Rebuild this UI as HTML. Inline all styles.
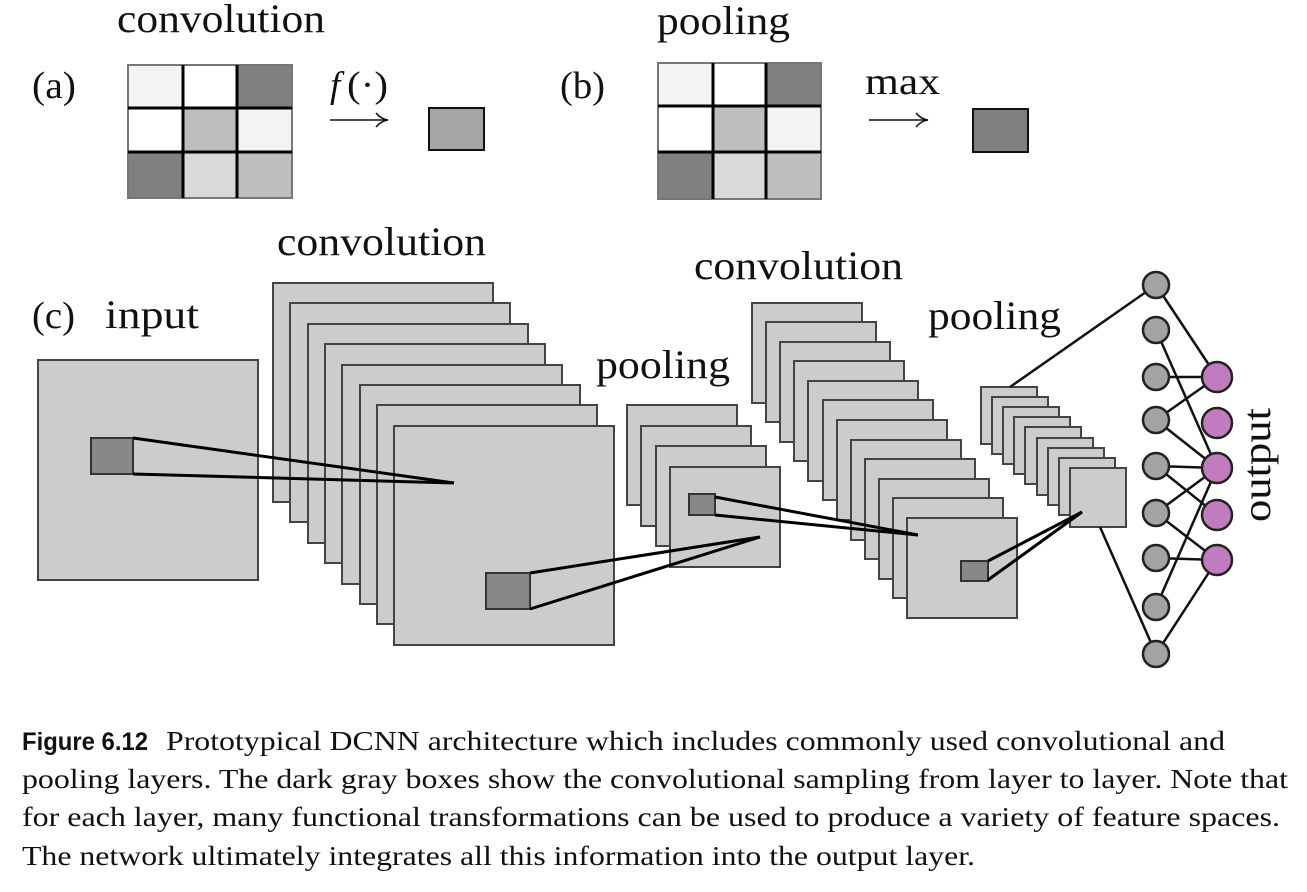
<!DOCTYPE html>
<html><head><meta charset="utf-8"><style>
html,body{margin:0;padding:0;background:#fff;}
svg{display:block;}
.s{font-family:"Liberation Serif",serif;fill:#111;}
</style></head><body>
<svg width="1307" height="892" viewBox="0 0 1307 892" xmlns="http://www.w3.org/2000/svg">
<!-- (a) -->
<text class="s" x="117" y="32" font-size="40" textLength="208" lengthAdjust="spacingAndGlyphs">convolution</text>
<text class="s" x="32" y="98" font-size="38" textLength="44" lengthAdjust="spacingAndGlyphs">(a)</text>
<g stroke="none">
<rect x="128" y="65" width="55" height="43" fill="#f2f3f2"/>
<rect x="183" y="65" width="54" height="43" fill="#fff"/>
<rect x="237" y="65" width="55" height="43" fill="#808080"/>
<rect x="128" y="108" width="55" height="44" fill="#fff"/>
<rect x="183" y="108" width="54" height="44" fill="#bfbdbe"/>
<rect x="237" y="108" width="55" height="44" fill="#f2f3f2"/>
<rect x="128" y="152" width="55" height="46" fill="#808080"/>
<rect x="183" y="152" width="54" height="46" fill="#d9d9d9"/>
<rect x="237" y="152" width="55" height="46" fill="#bfbdbe"/>
</g>
<rect x="128" y="65" width="164" height="133" fill="none" stroke="#777" stroke-width="2"/>
<g stroke="#000" stroke-width="3">
<line x1="183" y1="65" x2="183" y2="198"/><line x1="237" y1="65" x2="237" y2="198"/>
<line x1="128" y1="108" x2="292" y2="108"/><line x1="128" y1="152" x2="292" y2="152"/>
</g>
<text class="s" x="330" y="97" font-size="37" font-style="italic">f</text>
<text class="s" x="347" y="97" font-size="37" textLength="41" lengthAdjust="spacingAndGlyphs">(·)</text>
<line x1="330" y1="120" x2="386" y2="120" stroke="#111" stroke-width="1.6"/>
<path d="M376 113 Q381 119 388 120 Q381 121 376 127" fill="none" stroke="#111" stroke-width="1.6"/>
<rect x="429" y="108" width="55" height="42" fill="#a5a7a5" stroke="#111" stroke-width="2"/>
<!-- (b) -->
<text class="s" x="560" y="98" font-size="38" textLength="45" lengthAdjust="spacingAndGlyphs">(b)</text>
<text class="s" x="657" y="34" font-size="40" textLength="133" lengthAdjust="spacingAndGlyphs">pooling</text>
<g stroke="none">
<rect x="658" y="63" width="55" height="43" fill="#f2f3f2"/>
<rect x="713" y="63" width="53" height="43" fill="#fff"/>
<rect x="766" y="63" width="55" height="43" fill="#808080"/>
<rect x="658" y="106" width="55" height="46" fill="#fff"/>
<rect x="713" y="106" width="53" height="46" fill="#bfbdbe"/>
<rect x="766" y="106" width="55" height="46" fill="#f2f3f2"/>
<rect x="658" y="152" width="55" height="47" fill="#808080"/>
<rect x="713" y="152" width="53" height="47" fill="#d9d9d9"/>
<rect x="766" y="152" width="55" height="47" fill="#bfbdbe"/>
</g>
<rect x="658" y="63" width="163" height="136" fill="none" stroke="#777" stroke-width="2"/>
<g stroke="#000" stroke-width="3">
<line x1="713" y1="63" x2="713" y2="199"/><line x1="766" y1="63" x2="766" y2="199"/>
<line x1="658" y1="106" x2="821" y2="106"/><line x1="658" y1="152" x2="821" y2="152"/>
</g>
<text class="s" x="865" y="94" font-size="38" textLength="75" lengthAdjust="spacingAndGlyphs">max</text>
<line x1="869" y1="120" x2="926" y2="120" stroke="#111" stroke-width="1.6"/>
<path d="M916 113 Q921 119 928 120 Q921 121 916 127" fill="none" stroke="#111" stroke-width="1.6"/>
<rect x="973" y="109" width="55" height="43" fill="#7f7f7f" stroke="#111" stroke-width="2"/>
<!-- (c) labels -->
<text class="s" x="277" y="255" font-size="40" textLength="209" lengthAdjust="spacingAndGlyphs">convolution</text>
<text class="s" x="32" y="328" font-size="38" textLength="43" lengthAdjust="spacingAndGlyphs">(c)</text>
<text class="s" x="105" y="328" font-size="40" textLength="94" lengthAdjust="spacingAndGlyphs">input</text>
<text class="s" x="596" y="378" font-size="40" textLength="134" lengthAdjust="spacingAndGlyphs">pooling</text>
<text class="s" x="694" y="279" font-size="40" textLength="209" lengthAdjust="spacingAndGlyphs">convolution</text>
<text class="s" x="928" y="329" font-size="40" textLength="133" lengthAdjust="spacingAndGlyphs">pooling</text>
<text class="s" x="0" y="0" font-size="40" textLength="114" lengthAdjust="spacingAndGlyphs" transform="translate(1270,522) rotate(-90)">output</text>
<g fill="#cccccc" stroke="#444" stroke-width="2">
<rect x="38" y="360" width="220" height="220"/>
<rect x="273" y="283" width="220" height="219"/>
<rect x="290" y="303" width="220" height="219"/>
<rect x="308" y="324" width="220" height="219"/>
<rect x="325" y="344" width="220" height="219"/>
<rect x="342" y="365" width="220" height="219"/>
<rect x="360" y="385" width="220" height="219"/>
<rect x="377" y="405" width="220" height="219"/>
<rect x="394" y="426" width="220" height="219"/>
<rect x="627" y="405" width="110" height="100"/>
<rect x="641" y="426" width="110" height="100"/>
<rect x="656" y="446" width="110" height="100"/>
<rect x="670" y="467" width="110" height="100"/>
<rect x="752" y="303" width="110" height="100"/>
<rect x="766" y="322" width="110" height="100"/>
<rect x="780" y="342" width="110" height="100"/>
<rect x="794" y="361" width="110" height="100"/>
<rect x="808" y="381" width="110" height="100"/>
<rect x="823" y="400" width="110" height="100"/>
<rect x="837" y="420" width="110" height="100"/>
<rect x="851" y="440" width="110" height="100"/>
<rect x="865" y="459" width="110" height="100"/>
<rect x="879" y="479" width="110" height="100"/>
<rect x="893" y="498" width="110" height="100"/>
<rect x="907" y="518" width="110" height="100"/>
<rect x="981" y="387" width="56" height="57"/>
<rect x="992" y="397" width="56" height="57"/>
<rect x="1003" y="407" width="56" height="57"/>
<rect x="1014" y="417" width="56" height="57"/>
<rect x="1025" y="427" width="56" height="57"/>
<rect x="1037" y="438" width="56" height="57"/>
<rect x="1048" y="448" width="56" height="57"/>
<rect x="1059" y="458" width="56" height="57"/>
<rect x="1070" y="468" width="56" height="59"/>
</g>
<g fill="#888" stroke="#333" stroke-width="2">
<rect x="91" y="438" width="42" height="36"/>
<rect x="486" y="573" width="44" height="36"/>
<rect x="689" y="494" width="26" height="21"/>
<rect x="961" y="561" width="27" height="20"/>
</g>
<g stroke="#000" stroke-width="3" fill="none">
<line x1="133" y1="438" x2="454" y2="483"/><line x1="133" y1="474" x2="454" y2="483"/>
<line x1="530" y1="573" x2="760" y2="537"/><line x1="530" y1="609" x2="760" y2="537"/>
<line x1="715" y1="497" x2="918" y2="535"/><line x1="715" y1="515" x2="918" y2="535"/>
<line x1="988" y1="561" x2="1082" y2="512"/><line x1="988" y1="580" x2="1082" y2="512"/>
</g>
<g stroke="#111" stroke-width="2.5">
<line x1="1010" y1="387" x2="1156" y2="285"/>
<line x1="1100" y1="527" x2="1156" y2="654"/>
<line x1="1156" y1="285" x2="1217" y2="377"/>
<line x1="1156" y1="654" x2="1217" y2="560"/>
<line x1="1156" y1="330" x2="1217" y2="468"/>
<line x1="1156" y1="377" x2="1217" y2="377"/>
<line x1="1156" y1="420" x2="1217" y2="377"/>
<line x1="1156" y1="420" x2="1217" y2="468"/>
<line x1="1156" y1="466" x2="1217" y2="468"/>
<line x1="1156" y1="466" x2="1217" y2="515"/>
<line x1="1156" y1="513" x2="1217" y2="468"/>
<line x1="1156" y1="513" x2="1217" y2="560"/>
<line x1="1156" y1="558" x2="1217" y2="560"/>
<line x1="1156" y1="607" x2="1217" y2="468"/>
</g>
<g fill="#a3a3a3" stroke="#222" stroke-width="2.5">
<circle cx="1156" cy="285" r="13"/><circle cx="1156" cy="330" r="13"/>
<circle cx="1156" cy="377" r="13"/><circle cx="1156" cy="420" r="13"/>
<circle cx="1156" cy="466" r="13"/><circle cx="1156" cy="513" r="13"/>
<circle cx="1156" cy="558" r="13"/><circle cx="1156" cy="607" r="13"/>
<circle cx="1156" cy="654" r="13"/>
</g>
<g fill="#c07cbf" stroke="#222" stroke-width="2.5">
<circle cx="1217" cy="377" r="15"/><circle cx="1217" cy="423" r="15"/>
<circle cx="1217" cy="468" r="15"/><circle cx="1217" cy="515" r="15"/>
<circle cx="1217" cy="560" r="15"/>
</g>
<text x="22" y="750" font-family="Liberation Sans Narrow, Liberation Sans, sans-serif" font-weight="bold" font-size="25" textLength="126" lengthAdjust="spacingAndGlyphs" fill="#111">Figure 6.12</text>
<text class="s" x="166" y="750" font-size="27" textLength="1059" lengthAdjust="spacingAndGlyphs">Prototypical DCNN architecture which includes commonly used convolutional and</text>
<text class="s" x="22" y="788" font-size="27" textLength="1266" lengthAdjust="spacingAndGlyphs">pooling layers. The dark gray boxes show the convolutional sampling from layer to layer. Note that</text>
<text class="s" x="22" y="826" font-size="27" textLength="1258" lengthAdjust="spacingAndGlyphs">for each layer, many functional transformations can be used to produce a variety of feature spaces.</text>
<text class="s" x="22" y="865" font-size="27" textLength="953" lengthAdjust="spacingAndGlyphs">The network ultimately integrates all this information into the output layer.</text>
</svg>
</body></html>
